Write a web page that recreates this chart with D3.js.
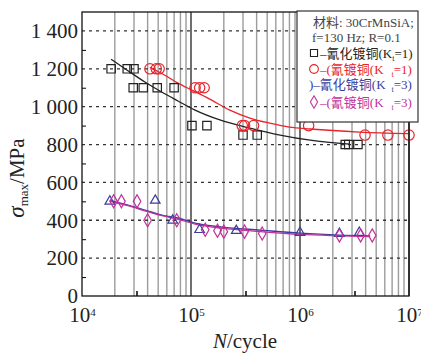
<!DOCTYPE html>
<html>
<head>
<meta charset="utf-8">
<script src="https://cdn.jsdelivr.net/npm/d3@7"></script>
<style>
  body { margin: 0; background: #fff; }
  svg { display: block; }
  text { font-family: "Liberation Serif", "DejaVu Serif", "Noto Sans CJK SC", serif; }
</style>
</head>
<body>
<div id="chart"></div>
<script>
// S-N data: [cycles, stress MPa]
var sqKt1 = [[1.85e4,1200],[2.6e4,1200],[3.0e4,1200],[2.95e4,1100],[3.65e4,1100],[4.9e4,1100],[7.0e4,1100],
  [1.02e5,900],[1.4e5,900],[3.0e5,850],[4.05e5,850],[2.6e6,800],[2.8e6,800],[3.4e6,800]];
var circKt1 = [[4.2e4,1200],[4.8e4,1200],[5.1e4,1200],[1.09e5,1100],[1.2e5,1100],[1.32e5,1100],
  [2.95e5,900],[3.1e5,900],[3.75e5,900],[1.2e6,900],[3.95e6,850],[6.4e6,850],[1.0e7,850]];
var triKt3 = [[1.8e4,500],[4.7e4,505],[6.8e4,400],[1.2e5,350],[2.6e5,345],[1.0e6,335],[2.3e6,330],[3.5e6,335]];
var diaKt3 = [[1.95e4,500],[2.3e4,500],[3.2e4,500],[4.0e4,400],[7.4e4,400],[1.35e5,350],[1.75e5,345],
  [2.0e5,340],[3.1e5,340],[4.5e5,330],[2.3e6,320],[3.6e6,320],[4.6e6,320]];

// fitted curves
var fitSq = [[1.85e4,1250],[2.64e4,1190],[3.78e4,1130],[5.42e4,1076],[7.6e4,1030],[1.09e5,982],
  [1.84e5,930],[3.47e5,887],[6.56e5,850],[1.24e6,823],[2.87e6,802]];
var fitCirc = [[4.2e4,1208],[5.76e4,1166],[7.6e4,1124],[1.02e5,1087],[1.43e5,1045],[2.27e5,982],
  [3.47e5,940],[5.27e5,913],[8.0e5,892],[1.24e6,882],[3.5e6,866],[1.0e7,858]];
var fitTri = [[1.8e4,505],[2.64e4,480],[3.78e4,454],[5.42e4,427],[7.6e4,412],[1.09e5,385],
  [1.92e5,364],[4.3e5,348],[1.0e6,332],[2.3e6,322],[4.4e6,318]];
var fitDia = [[1.8e4,500],[2.64e4,477],[3.78e4,450],[5.42e4,424],[7.6e4,405],[1.09e5,380],
  [1.92e5,358],[4.3e5,340],[1.0e6,325],[2.3e6,318],[4.4e6,314]];

var yTicks = [0, 200, 400, 600, 800, 1000, 1200, 1400];
var xTicks = [1e4, 1e5, 1e6, 1e7];

var W = 421, H = 354;
var margin = {left: 82, right: 12, top: 12, bottom: 58};

var svg = d3.select("#chart").append("svg")
  .attr("width", W).attr("height", H)
  .attr("font-family", "Liberation Serif, serif");

var x = d3.scaleLog().domain([1e4, 1e7]).range([margin.left, W - margin.right]);
var y = d3.scaleLinear().domain([0, 1500]).range([H - margin.bottom, margin.top]);

var x0 = x.range()[0], x1 = x.range()[1], y0 = y.range()[0], y1 = y.range()[1];

// vertical grid: gray for 2..9, dark for decades
var minor = [];
[1e4, 1e5, 1e6].forEach(function(d) { for (var m = 2; m <= 9; m++) minor.push(d * m); });
svg.append("g").selectAll("line").data(minor).join("line")
  .attr("x1", d => x(d)).attr("x2", d => x(d))
  .attr("y1", y1).attr("y2", y0)
  .attr("stroke", "#9c9c9c").attr("stroke-width", 1.4);
svg.append("g").selectAll("line").data([1e5, 1e6, 1e7]).join("line")
  .attr("x1", d => x(d)).attr("x2", d => x(d))
  .attr("y1", y1).attr("y2", y0)
  .attr("stroke", "#222").attr("stroke-width", 1.3);

// horizontal dashed grid
svg.append("g").selectAll("line").data(yTicks.slice(1)).join("line")
  .attr("x1", x0).attr("x2", x1)
  .attr("y1", d => y(d)).attr("y2", d => y(d))
  .attr("stroke", "#333").attr("stroke-width", 1.3)
  .attr("stroke-dasharray", "3,4");

// curves
var line = d3.line().x(d => x(d[0])).y(d => y(d[1])).curve(d3.curveMonotoneX);
var curves = [[fitSq, "#222"], [fitCirc, "#e8242c"], [fitTri, "#3b3d9e"], [fitDia, "#c2319a"]];
curves.forEach(function(c) {
  svg.append("path").datum(c[0])
    .attr("d", line)
    .attr("fill", "none").attr("stroke", c[1]).attr("stroke-width", 1.3);
});

// markers
var sym = function(type, size) { return d3.symbol().type(type).size(size)(); };
var series = [
  [sqKt1, d3.symbolSquare, 70, "#222"],
  [circKt1, d3.symbolCircle, 85, "#e8242c"],
  [triKt3, d3.symbolTriangle, 40, "#3b3d9e"],
  [diaKt3, d3.symbolDiamond, 50, "#c2319a"]
];
series.forEach(function(s) {
  svg.append("g").selectAll("path").data(s[0]).join("path")
    .attr("transform", d => "translate(" + x(d[0]) + "," + y(d[1]) + ")")
    .attr("d", sym(s[1], s[2]))
    .attr("fill", "none").attr("stroke", s[3]).attr("stroke-width", 1.2);
});

// axes
var fmt = d3.formatLocale({decimal: ".", thousands: " ", grouping: [3], currency: ["", ""]}).format(",");

var yAxis = svg.append("g").attr("transform", "translate(" + x0 + ",0)")
  .call(d3.axisLeft(y).tickValues(yTicks).tickFormat(fmt).tickSizeInner(0).tickSizeOuter(0).tickPadding(4));
yAxis.attr("font-family", null);
yAxis.select(".domain").remove();
yAxis.selectAll("text").attr("font-size", 21).attr("fill", "#222");

svg.append("g").attr("transform", "translate(" + x0 + ",0)")
  .call(d3.axisLeft(y).tickValues(d3.range(100, 1500, 200)).tickFormat("").tickSizeInner(-4).tickSizeOuter(0))
  .call(g => g.select(".domain").remove());

var xAxis = svg.append("g").attr("transform", "translate(0," + y0 + ")")
  .call(d3.axisBottom(x).tickValues(xTicks).tickFormat("").tickSizeInner(0).tickSizeOuter(0).tickPadding(11));
xAxis.attr("font-family", null);
xAxis.select(".domain").remove();
xAxis.selectAll(".tick text").each(function(d) {
  var t = d3.select(this).attr("font-size", 21).attr("fill", "#222");
  t.append("tspan").text("10");
  t.append("tspan").attr("dy", "-0.55em").attr("font-size", 11).text(Math.round(Math.log10(d)));
});

svg.append("g").attr("transform", "translate(0," + y0 + ")")
  .call(d3.axisBottom(x).tickValues([Math.pow(10, 4.5), Math.pow(10, 5.5), Math.pow(10, 6.5)])
    .tickFormat("").tickSizeInner(-5).tickSizeOuter(0))
  .call(g => g.select(".domain").remove())
  .selectAll("line").attr("stroke-width", 1.5);

// frame
svg.append("rect").attr("x", x0).attr("y", y1).attr("width", x1 - x0).attr("height", y0 - y1)
  .attr("fill", "none").attr("stroke", "#111").attr("stroke-width", 1.3);

// axis titles
svg.append("text").attr("x", 245).attr("y", 348).attr("text-anchor", "middle")
  .attr("font-size", 21).attr("fill", "#222")
  .call(t => { t.append("tspan").attr("font-style", "italic").text("N"); t.append("tspan").text("/cycle"); });

svg.append("text").attr("transform", "translate(24,178) rotate(-90)").attr("text-anchor", "middle")
  .attr("font-size", 21).attr("fill", "#222")
  .call(t => {
    t.append("tspan").attr("font-style", "italic").attr("font-size", 23).text("σ");
    t.append("tspan").attr("font-size", 13).attr("dy", 4).text("max");
    t.append("tspan").attr("dy", -4).text("/MPa");
  });

// legend
var lg = svg.append("g");
lg.append("rect").attr("x", 297).attr("y", 11).attr("width", 121).attr("height", 111)
  .attr("fill", "#fff").attr("stroke", "#333").attr("stroke-width", 1.2);
lg.append("text").attr("x", 313).attr("y", 27).attr("font-size", 13).attr("fill", "#444").text("材料: 30CrMnSiA;");
lg.append("text").attr("x", 312).attr("y", 42).attr("font-size", 13).attr("fill", "#444").text("f=130 Hz; R=0.1");

var legendRows = [
  {y: 58, color: "#222", shape: d3.symbolSquare, size: 50, pre: "–氰化镀铜(K", sub: "t", post: "=1)", gap: 0},
  {y: 74, color: "#e8242c", shape: d3.symbolCircle, size: 60, pre: "–(氰镀铜(K", sub: "t", post: "=1)", gap: 8},
  {y: 89, color: "#3b3d9e", shape: null, size: 0, pre: ")–氰化镀铜(K", sub: "t", post: "=3)", gap: 6},
  {y: 107, color: "#c2319a", shape: d3.symbolDiamond, size: 45, pre: "–(氰镀铜(K", sub: "t", post: "=3)", gap: 8}
];
legendRows.forEach(function(r) {
  var tx = 320;
  if (r.shape) {
    lg.append("path").attr("transform", "translate(314," + (r.y - 5) + ")")
      .attr("d", sym(r.shape, r.size)).attr("fill", "none").attr("stroke", r.color).attr("stroke-width", 1.1);
  } else {
    tx = 309;
  }
  var t = lg.append("text").attr("x", tx).attr("y", r.y).attr("font-size", 13).attr("fill", r.color);
  t.append("tspan").text(r.pre);
  t.append("tspan").attr("dx", r.gap).attr("dy", 3).attr("font-size", 8).text(r.sub);
  t.append("tspan").attr("dy", -3).text(r.post);
});
</script>
</body>
</html>
